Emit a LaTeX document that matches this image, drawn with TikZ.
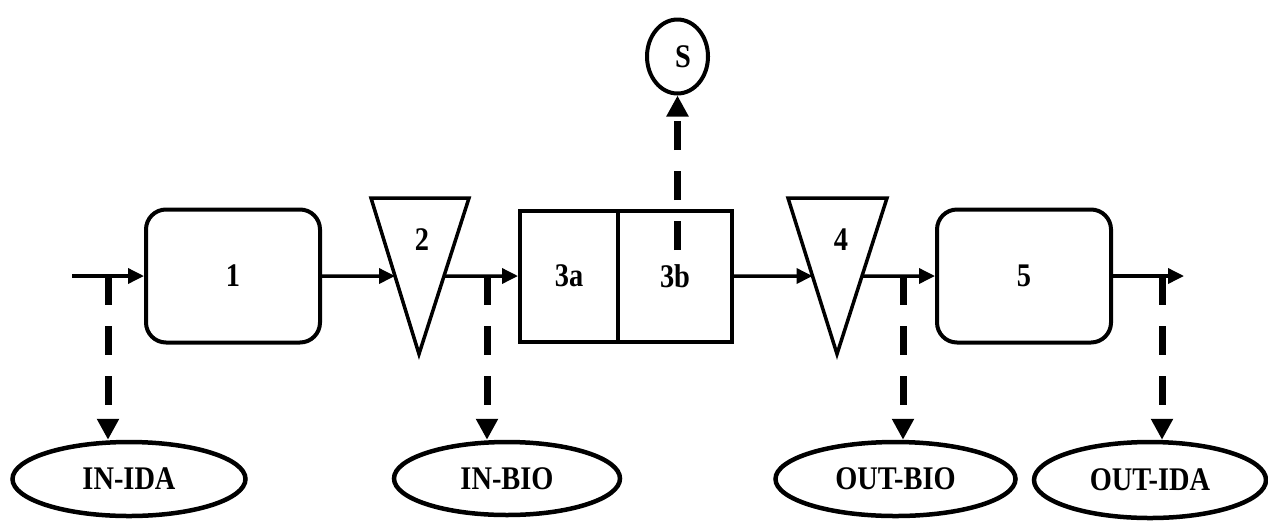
\documentclass[tikz,border=0pt]{standalone}
\usepackage{fontspec}
\setmainfont{Liberation Serif}
\usepackage{graphicx}
\usetikzlibrary{arrows.meta,shapes.geometric}
% condensed bold labels
\newcommand\narrowtxt[1]{\scalebox{0.86}[1]{#1}}
\begin{document}
\begin{tikzpicture}[x=1pt,y=-1pt,
  lbl/.style={font=\fontsize{33}{36}\selectfont\bfseries, inner sep=0pt},
  proc/.style={draw, line width=4pt, rounded corners=20pt, minimum width=174pt,
               minimum height=133pt, inner sep=0pt, lbl},
  cell/.style={draw, line width=4pt, minimum height=131pt, inner sep=0pt, lbl},
  pool/.style={draw, ellipse, line width=4.5pt, inner sep=0pt, lbl},
  flow/.style={line width=3.5pt, -{Triangle[length=16pt,width=15pt]}},
  probe/.style={line width=7pt, line cap=butt, dash pattern=on 29pt off 21pt,
                -{Triangle[length=21pt,width=21pt]}},
  sieve/.style={line width=3.5pt, line join=miter}
]
\useasboundingbox (0,0) rectangle (1268,523);

% process boxes
\node[proc] (p1) at (233,276) {\narrowtxt{1}};
\node[cell, minimum width=98pt] (p3a) at (569,276) {\narrowtxt{3a}};
\node[cell, minimum width=114pt] (p3b) at (675,276) {\narrowtxt{3b}};
\node[proc] (p5) at (1024,276) {\narrowtxt{5}};

% screening triangles
\coordinate (t2l) at (371,198);
\coordinate (t2r) at (469,198);
\coordinate (t2a) at (419,354);
\draw[sieve] (t2l) -- (t2r) -- (t2a) -- cycle;
\node[lbl] (t2) at (422,240) {\narrowtxt{2}};

\coordinate (t4l) at (788,198);
\coordinate (t4r) at (887,198);
\coordinate (t4a) at (837,354);
\draw[sieve] (t4l) -- (t4r) -- (t4a) -- cycle;
\node[lbl] (t4) at (841,240) {\narrowtxt{4}};

% sampling ellipses
\node[pool, minimum width=61pt, minimum height=74pt, line width=4pt] (s) at (677.5,56.5) {};
\node[lbl] (slab) at (683,57) {\narrowtxt{S}};
\node[pool, minimum width=233pt, minimum height=74pt] (e1) at (129,479) {\narrowtxt{IN-IDA}};
\node[pool, minimum width=226pt, minimum height=73pt] (e2) at (507,478.5) {\narrowtxt{IN-BIO}};
\node[pool, minimum width=240pt, minimum height=74pt] (e3) at (895.5,479) {\narrowtxt{OUT-BIO}};
\node[pool, minimum width=232pt, minimum height=76pt] (e4) at (1150,480) {\narrowtxt{OUT-IDA}};

% main flow
\coordinate (src) at (72,276);
\coordinate (dst) at (1184,276);
\draw[flow] (src) -- (p1.west);
\draw[flow] (p1.east) -- (intersection of p1.east--p3a.west and t2l--t2a);
\draw[flow] (intersection of p1.east--p3a.west and t2r--t2a) -- (p3a.west);
\draw[flow] (p3b.east) -- (intersection of p3b.east--p5.west and t4l--t4a);
\draw[flow] (intersection of p3b.east--p5.west and t4r--t4a) -- (p5.west);
\draw[flow] (p5.east) -- (dst);

% sampling points
\coordinate (m1) at (108,276);
\coordinate (m2) at (487,276);
\coordinate (m3) at (903,276);
\coordinate (m4) at (1162,276);
\coordinate (m0) at (677.5,250);
\draw[probe] (m1) -- (m1 |- e1.north);
\draw[probe] (m2) -- (m2 |- e2.north);
\draw[probe] (m3) -- (m3 |- e3.north);
\draw[probe] (m4) -- (m4 |- e4.north);
\draw[probe] (m0) -- (s.south);
\end{tikzpicture}
\end{document}
